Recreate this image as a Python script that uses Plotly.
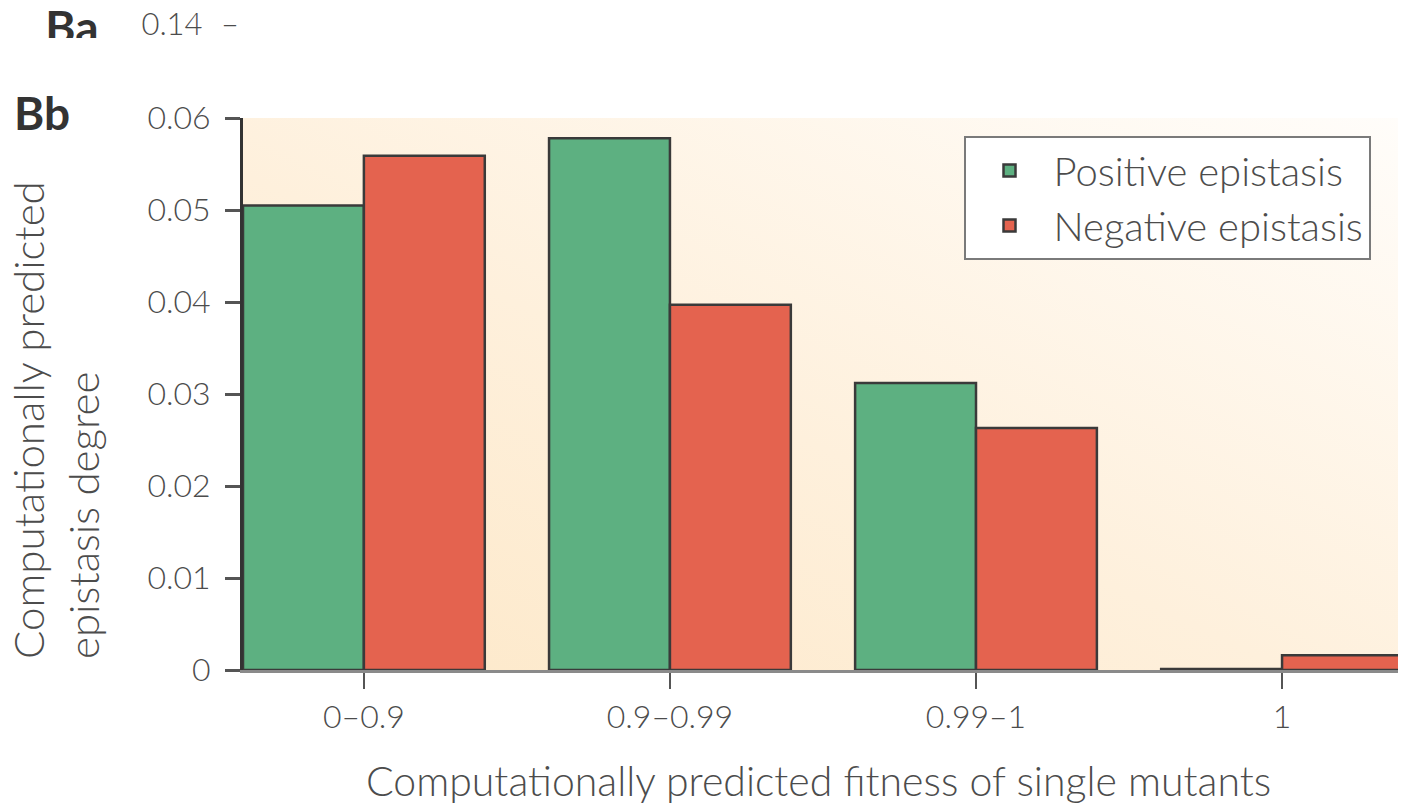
import base64
import plotly.graph_objects as go

# ---------------- data ----------------
categories = ["0\u20130.9", "0.9\u20130.99", "0.99\u20131", "1"]
positive_epistasis = [0.0505, 0.0578, 0.0312, 0.0001]
negative_epistasis = [0.0559, 0.0397, 0.0263, 0.0016]
y_ticks = [0, 0.01, 0.02, 0.03, 0.04, 0.05, 0.06]
y_tick_labels = ["0", "0.01", "0.02", "0.03", "0.04", "0.05", "0.06"]

# ---------------- geometry ----------------
OFF = 8                       # page body margin of the html output
W, H = 1406 - OFF, 806 - OFF
X0 = 243 - OFF                # left edge of plot area
TOP = 118 - OFF               # top edge of plot area
BOT = 670 - OFF               # bottom edge of plot area
MB = H - BOT
PH = BOT                      # paper height (t margin = 0)

FONT = "Lato, Open Sans, sans-serif"
TXT = "#4c4c4c"
WT = 300

def px(x):  # reference page x -> paper fraction
    return (x - OFF) / W

def py(y):  # reference page y -> paper fraction
    return (PH - (y - OFF)) / PH

fig = go.Figure()

fig.add_trace(go.Bar(
    x=list(range(len(categories))), y=positive_epistasis, name="Positive epistasis",
    marker=dict(color="#5DB081", line=dict(color="#3a3a3a", width=2.5)),
    xaxis="x", yaxis="y",
))
fig.add_trace(go.Bar(
    x=list(range(len(categories))), y=negative_epistasis, name="Negative epistasis",
    marker=dict(color="#E4634F", line=dict(color="#3a3a3a", width=2.5)),
    xaxis="x", yaxis="y",
))

# clipped fragment of the panel above ("Ba 0.14 -")
fig.add_trace(go.Scatter(
    x=[72 - OFF, 172 - OFF, 230 - OFF], y=[1, 4, 4], mode="text",
    text=["<b>Ba</b>", "0.14", "\u2013"],
    textposition="bottom center",
    textfont=dict(family=FONT, size=[46, 31, 31], color=["#333333", TXT, TXT]),
    xaxis="x2", yaxis="y2", showlegend=False, hoverinfo="skip", cliponaxis=True,
))

# background gradient (orange-cream fading to white towards top-right)
svg = ('<svg xmlns="http://www.w3.org/2000/svg" width="100" height="100" preserveAspectRatio="none">'
       '<defs><linearGradient id="g" x1="0" y1="1" x2="1" y2="0">'
       '<stop offset="0" stop-color="#FDE8C8"/>'
       '<stop offset="0.45" stop-color="#FEF0DC"/>'
       '<stop offset="1" stop-color="#FFFDFA"/>'
       '</linearGradient></defs>'
       '<rect width="100" height="100" fill="url(#g)"/></svg>')
src = "data:image/svg+xml;base64," + base64.b64encode(svg.encode()).decode()

xd0 = X0 / W
yd1 = (PH - TOP) / PH

fig.update_layout(
    width=W, height=H, autosize=False,
    margin=dict(l=0, r=0, t=0, b=MB, pad=0, autoexpand=False),
    paper_bgcolor="white",
    plot_bgcolor="white",
    barmode="group", bargap=0.21, bargroupgap=0,
    font=dict(family=FONT, color=TXT, weight=WT),
    images=[dict(source=src, xref="paper", yref="paper", x=xd0, y=yd1,
                 sizex=1 - xd0, sizey=yd1, sizing="stretch", layer="below",
                 xanchor="left", yanchor="top")],
    xaxis=dict(
        domain=[xd0, 1], range=[-0.395, 3.405],
        tickmode="array", tickvals=list(range(len(categories))), ticktext=categories,
        ticks="outside", ticklen=16, tickwidth=2, tickcolor="#555555",
        ticklabelstandoff=1,
        showline=True, linecolor="#8a8a8a", linewidth=3,
        showgrid=False, zeroline=False,
        tickfont=dict(family=FONT, size=32, color=TXT, weight=WT),
    ),
    yaxis=dict(
        domain=[0, yd1], range=[0, 0.06],
        tickmode="array", tickvals=y_ticks, ticktext=y_tick_labels,
        ticks="outside", ticklen=15, tickwidth=3, tickcolor="#555555",
        ticklabelstandoff=8,
        showline=True, linecolor="#333333", linewidth=3,
        showgrid=False, zeroline=False,
        tickfont=dict(family=FONT, size=32, color=TXT, weight=WT),
    ),
    xaxis2=dict(domain=[0, 1], range=[0, W], visible=False, anchor="y2"),
    yaxis2=dict(domain=[(PH - 30) / PH, 1], range=[30, 0], visible=False, anchor="x2"),
    legend=dict(
        x=px(1167), xanchor="center", y=py(136), yanchor="top",
        bgcolor="white", bordercolor="#7a7a7a", borderwidth=2,
        font=dict(family=FONT, size=40, color=TXT, weight=WT),
        itemwidth=78, tracegroupgap=0,
    ),
    annotations=[
        dict(text="<b>Bb</b>", x=px(12), y=py(113), xref="paper", yref="paper",
             xanchor="left", yanchor="middle", showarrow=False,
             font=dict(family=FONT, size=46, color="#333333", weight=700)),
        dict(text="Computationally predicted<br>epistasis degree",
             x=px(56), y=py(420), xref="paper", yref="paper", align="left",
             xanchor="center", yanchor="middle", textangle=-90, showarrow=False,
             font=dict(family=FONT, size=42, color=TXT, weight=WT)),
        dict(text="Computationally predicted fitness of single mutants",
             x=px(818), y=py(781), xref="paper", yref="paper",
             xanchor="center", yanchor="middle", showarrow=False,
             font=dict(family=FONT, size=41, color=TXT, weight=WT)),
    ],
)

fig.write_html("out.html")
